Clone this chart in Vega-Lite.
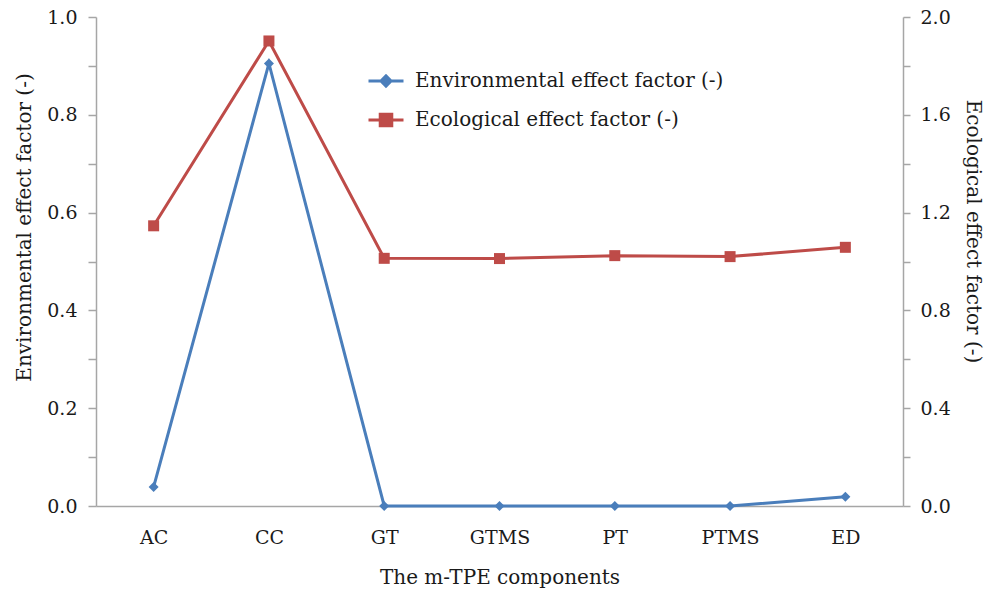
{
  "$schema": "https://vega.github.io/schema/vega-lite/v6.json",
  "width": 807,
  "height": 489,
  "autosize": {"type": "none"},
  "padding": {"left": 96, "top": 17, "right": 87, "bottom": 83},
  "background": "white",
  "config": {
    "view": {"stroke": null},
    "font": "DejaVu Serif",
    "axis": {
      "labelFont": "DejaVu Serif",
      "titleFont": "DejaVu Serif",
      "labelFontSize": 19,
      "titleFontSize": 20,
      "titleFontWeight": "normal",
      "labelColor": "#1a1a1a",
      "titleColor": "#1a1a1a",
      "domainColor": "#a6a6a6",
      "tickColor": "#a6a6a6",
      "domainWidth": 1.5,
      "tickWidth": 1.5,
      "grid": false
    }
  },
  "data": {
    "values": [
      {"component": "AC", "series": "Environmental effect factor (-)", "value": 0.039},
      {"component": "CC", "series": "Environmental effect factor (-)", "value": 0.905},
      {"component": "GT", "series": "Environmental effect factor (-)", "value": 0.0},
      {"component": "GTMS", "series": "Environmental effect factor (-)", "value": 0.0},
      {"component": "PT", "series": "Environmental effect factor (-)", "value": 0.0},
      {"component": "PTMS", "series": "Environmental effect factor (-)", "value": 0.0},
      {"component": "ED", "series": "Environmental effect factor (-)", "value": 0.019},
      {"component": "AC", "series": "Ecological effect factor (-)", "value": 1.146},
      {"component": "CC", "series": "Ecological effect factor (-)", "value": 1.902},
      {"component": "GT", "series": "Ecological effect factor (-)", "value": 1.013},
      {"component": "GTMS", "series": "Ecological effect factor (-)", "value": 1.012},
      {"component": "PT", "series": "Ecological effect factor (-)", "value": 1.024},
      {"component": "PTMS", "series": "Ecological effect factor (-)", "value": 1.02},
      {"component": "ED", "series": "Ecological effect factor (-)", "value": 1.058}
    ]
  },
  "encoding": {
    "x": {
      "field": "component",
      "type": "nominal",
      "sort": ["AC", "CC", "GT", "GTMS", "PT", "PTMS", "ED"],
      "scale": {"type": "point", "padding": 0.5},
      "axis": {
        "title": "The m-TPE components",
        "labelAngle": 0,
        "ticks": false,
        "labelPadding": 22,
        "titlePadding": 20
      }
    },
    "color": {
      "field": "series",
      "type": "nominal",
      "scale": {
        "domain": ["Environmental effect factor (-)", "Ecological effect factor (-)"],
        "range": ["#4a7ebb", "#be4b48"]
      },
      "legend": {
        "title": null,
        "orient": "none",
        "legendX": 271,
        "legendY": 45,
        "labelFont": "DejaVu Serif",
        "labelFontSize": 20,
        "labelColor": "#1a1a1a",
        "labelOffset": 10,
        "symbolSize": 1225,
        "symbolStrokeWidth": 3,
        "rowPadding": 8,
        "labelLimit": 400,
        "encode": {
          "symbols": {
            "update": {
              "fill": {"scale": "color", "field": "value"},
              "stroke": {"scale": "color", "field": "value"},
              "shape": {"signal": "datum.value == 'Environmental effect factor (-)' ? 'M-1,0H-0.29L0,-0.29L0.29,0H1H0.29L0,0.29L-0.29,0Z' : 'M-1,0H-0.33V-0.33H0.33V0H1H0.33V0.33H-0.33V0Z'"}
            }
          }
        }
      }
    }
  },
  "layer": [
    {
      "transform": [{"filter": "datum.series == 'Environmental effect factor (-)'"}],
      "encoding": {
        "y": {
          "field": "value",
          "type": "quantitative",
          "scale": {"domain": [0, 1], "nice": false},
          "axis": {
            "orient": "left",
            "title": "Environmental effect factor (-)",
            "values": [0, 0.1, 0.2, 0.3, 0.4, 0.5, 0.6, 0.7, 0.8, 0.9, 1.0],
            "labelExpr": "round(datum.value * 10) % 2 == 0 ? format(datum.value, '.1f') : ''",
            "tickSize": 8,
            "labelPadding": 11,
            "titlePadding": 12,
            "titleY": 210
          }
        }
      },
      "layer": [
        {"mark": {"type": "line", "strokeWidth": 3}},
        {"mark": {"type": "point", "shape": "diamond", "filled": true, "size": 100, "opacity": 1}}
      ]
    },
    {
      "transform": [{"filter": "datum.series == 'Ecological effect factor (-)'"}],
      "encoding": {
        "y": {
          "field": "value",
          "type": "quantitative",
          "scale": {"domain": [0, 2], "nice": false},
          "axis": {
            "orient": "right",
            "title": "Ecological effect factor (-)",
            "values": [0, 0.2, 0.4, 0.6, 0.8, 1.0, 1.2, 1.4, 1.6, 1.8, 2.0],
            "labelExpr": "round(datum.value * 5) % 2 == 0 ? format(datum.value, '.1f') : ''",
            "tickSize": 7,
            "labelPadding": 10,
            "titlePadding": 12,
            "titleY": 214
          }
        }
      },
      "layer": [
        {"mark": {"type": "line", "strokeWidth": 3}},
        {"mark": {"type": "point", "shape": "square", "filled": true, "size": 121, "opacity": 1}}
      ]
    }
  ],
  "resolve": {"scale": {"y": "independent"}}
}
